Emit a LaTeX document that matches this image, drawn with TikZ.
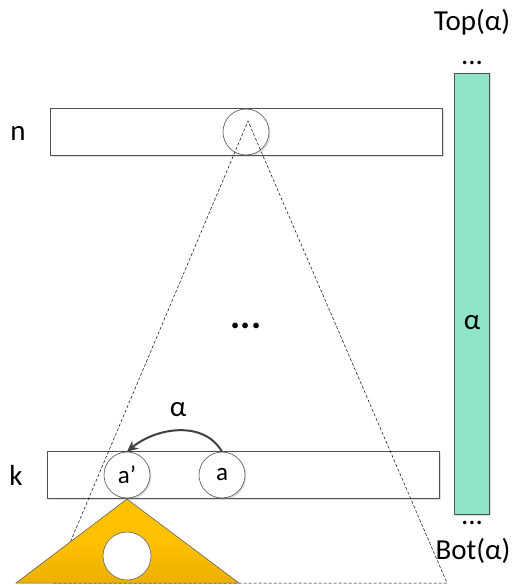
\documentclass[tikz,border=0pt]{standalone}
\usepackage{fontspec}
\setmainfont{Carlito}
\usetikzlibrary{arrows.meta,shadows}
\definecolor{barg}{RGB}{143,227,200}
\definecolor{orng}{RGB}{255,192,0}
\definecolor{edge}{RGB}{80,80,80}
\begin{document}
\begin{tikzpicture}[x=1pt,y=-1pt,
  shd/.style={drop shadow={opacity=0.25,shadow xshift=1.5pt,shadow yshift=-1.5pt,fill=gray}},
  layer/.style={draw=edge,fill=white,shd,minimum width=392pt,minimum height=47pt,inner sep=0pt,line width=0.6pt},
  circ/.style={circle,draw=edge,fill=white,shd,minimum size=46pt,inner sep=0pt,line width=0.6pt,font=\fontsize{25}{28}\selectfont},
  lbl/.style={font=\fontsize{29}{32}\selectfont,inner sep=0pt},
  dsh/.style={dashed,dash pattern=on 3pt off 2pt,line width=0.5pt,draw=black}]
\useasboundingbox (0,0) rectangle (513,585);
% layers
\node[layer] (layn) at (246,132) {};
\node[circ] (cn) at (246,132) {};
\node[layer] (layk) at (243,475) {};
\node[circ] (ca2) at (127,475) {a’};
\node[circ] (ca) at (222,475) {a};
% dashed triangle
\coordinate (apex) at (248,121);
\coordinate (bl) at (53,583);
\coordinate (br) at (447,583);
\draw[dsh] (bl) -- (apex) -- (br) -- cycle;
% orange triangle
\coordinate (oa) at (127,499);
\coordinate (ol) at (16,583);
\coordinate (or) at (239,583);
\draw[draw=edge,line width=0.5pt,top color=orng,bottom color=orng!92!black,middle color=orng] (oa) -- (or) -- (ol) -- cycle;
\node[circle,draw=edge,fill=white,minimum size=48pt,inner sep=0pt,line width=0.5pt] (hole) at (127,556) {};
% green bar
\node[draw=edge,fill=barg,shd,minimum width=35pt,minimum height=441pt,inner sep=0pt,line width=0.6pt] (bar) at (472,293.5) {};
\node[lbl] (alpha) at (472,323) {α};
\node[lbl] (topdots) at (472,63) {...};
\node[lbl] (top) at (472,22) {Top(α)};
\node[lbl] (botdots) at (472,523) {...};
\node[lbl] (bot) at (473,551) {Bot(α)};
% side labels
\node[lbl] (n) at (18,133) {n};
\node[lbl] (k) at (16,475) {k};
% middle dots
\node[font=\fontsize{38}{42}\selectfont\bfseries,inner sep=0pt] (mid) at (246,326) {...};
% arrow
\draw[-{Stealth[length=11pt,width=10pt]},line width=2pt,draw=edge!80!black] (ca.north) to[out=120,in=40] (ca2.north);
\node[lbl] (arrl) at (178,410) {α};
\end{tikzpicture}
\end{document}
